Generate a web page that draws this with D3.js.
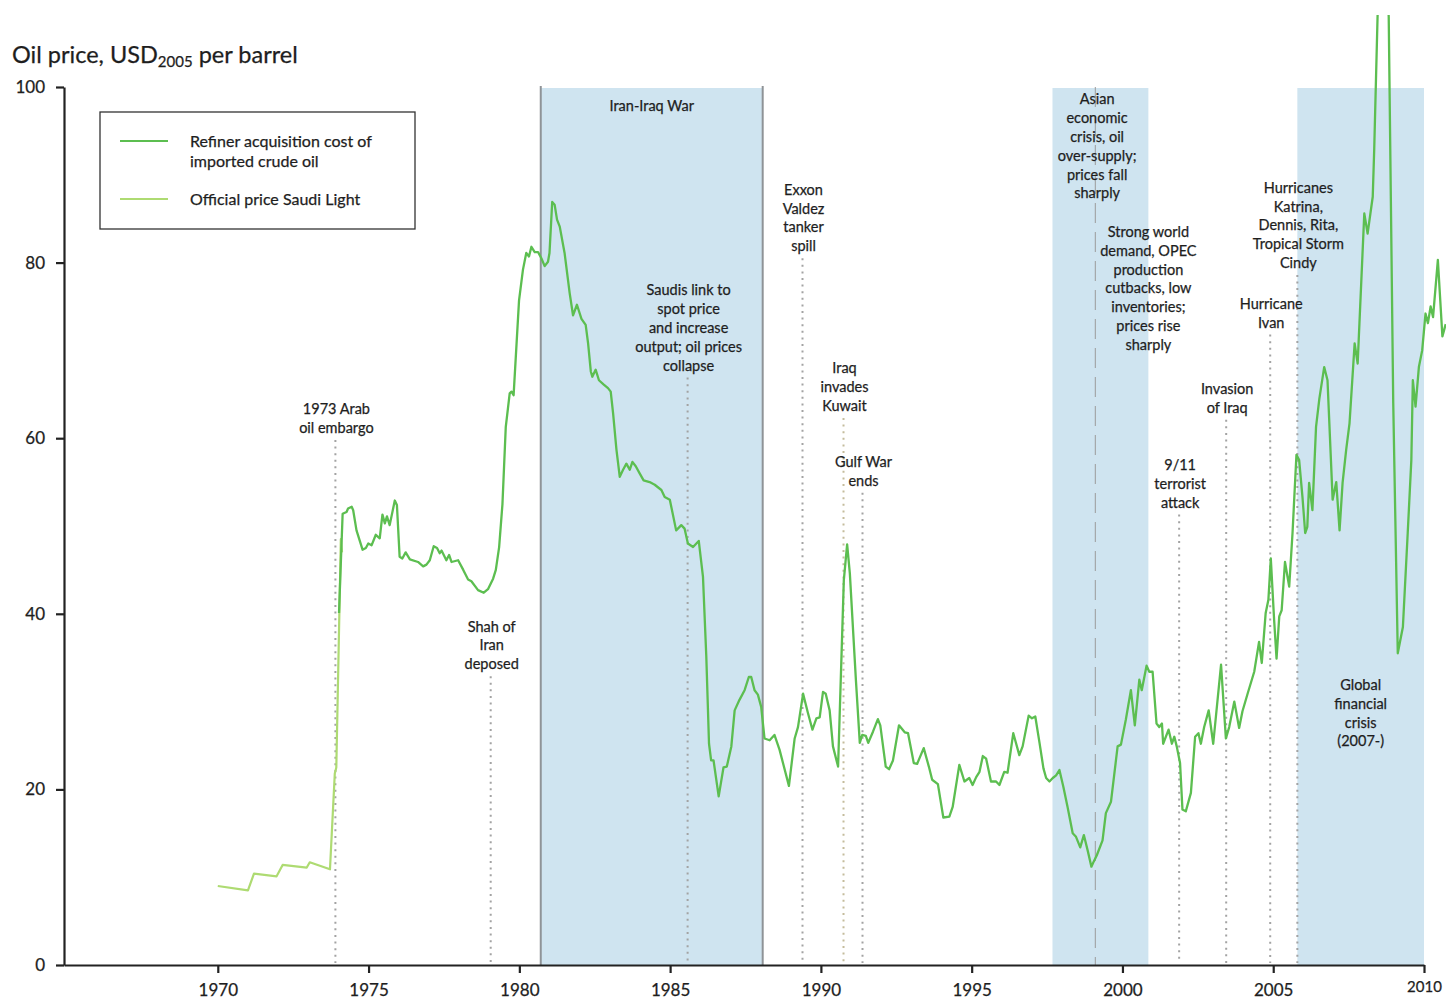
<!DOCTYPE html>
<html>
<head>
<meta charset="utf-8">
<script src="https://cdn.jsdelivr.net/npm/d3@7"></script>
<style>
  body { margin: 0; background: #fff; }
  svg { display: block; font-family: Lato, "Open Sans", sans-serif; }
  .txt { stroke: #1e1e1e; stroke-width: 0.25px; }
</style>
</head>
<body>
<div class="chart"></div>
<script>
// Refiner acquisition cost of imported crude oil, USD2005 per barrel
const racYears = [
  1974.02, 1974.14, 1974.27, 1974.32, 1974.44, 1974.49, 1974.60, 1974.80, 1974.91, 1974.99,
  1975.10, 1975.24, 1975.37, 1975.46, 1975.54, 1975.61, 1975.70, 1975.87, 1975.94,
  1976.03, 1976.12, 1976.23, 1976.37, 1976.64, 1976.81, 1976.92,
  1977.03, 1977.16, 1977.27, 1977.36, 1977.42, 1977.58, 1977.67, 1977.75, 1977.97,
  1978.14, 1978.30, 1978.41, 1978.63, 1978.82, 1978.96,
  1979.13, 1979.22, 1979.33, 1979.44, 1979.55, 1979.68, 1979.74, 1979.81, 1979.99,
  1980.12, 1980.23, 1980.32, 1980.40, 1980.51, 1980.62, 1980.73, 1980.84, 1980.95,
  1981.00, 1981.09, 1981.17, 1981.25, 1981.34, 1981.50, 1981.67, 1981.78, 1981.91,
  1982.06, 1982.20, 1982.28, 1982.37, 1982.42, 1982.53, 1982.64, 1982.80, 1982.94,
  1983.03, 1983.11, 1983.22, 1983.33, 1983.44, 1983.55, 1983.66, 1983.75, 1983.86, 1983.99,
  1984.12, 1984.32, 1984.49, 1984.71, 1984.82, 1984.99,
  1985.20, 1985.37, 1985.48, 1985.59, 1985.76, 1985.95,
  1986.09, 1986.20, 1986.29, 1986.36, 1986.44, 1986.61, 1986.77, 1986.88,
  1987.03, 1987.14, 1987.30, 1987.47, 1987.61, 1987.69, 1987.80, 1987.91,
  1988.02, 1988.13, 1988.30, 1988.46, 1988.63, 1988.94,
  1989.13, 1989.24, 1989.41, 1989.57, 1989.72, 1989.85, 1989.96,
  1990.07, 1990.16, 1990.29, 1990.40, 1990.57, 1990.76, 1990.87, 1990.96,
  1991.16, 1991.29, 1991.37, 1991.49, 1991.57, 1991.73, 1991.89, 1991.97,
  1992.15, 1992.26, 1992.39, 1992.59, 1992.78, 1992.89,
  1993.08, 1993.19, 1993.41, 1993.58, 1993.69, 1993.88,
  1994.06, 1994.26, 1994.37, 1994.59, 1994.76, 1994.92,
  1995.03, 1995.15, 1995.26, 1995.37, 1995.48, 1995.64, 1995.81, 1995.92,
  1996.08, 1996.19, 1996.38, 1996.58, 1996.69, 1996.89,
  1997.00, 1997.11, 1997.25, 1997.38, 1997.47, 1997.58, 1997.69, 1997.80, 1997.91,
  1998.04, 1998.18, 1998.35, 1998.46, 1998.60, 1998.72, 1998.85, 1998.97,
  1999.05, 1999.15, 1999.34, 1999.45, 1999.62, 1999.84, 1999.95,
  2000.11, 2000.28, 2000.41, 2000.56, 2000.64, 2000.80, 2000.89,
  2001.00, 2001.13, 2001.22, 2001.31, 2001.35, 2001.53, 2001.64, 2001.72, 2001.80, 2001.91, 2001.99,
  2002.10, 2002.27, 2002.41, 2002.52, 2002.60, 2002.71, 2002.86,
  2003.01, 2003.27, 2003.43, 2003.54, 2003.71, 2003.87, 2003.98,
  2004.15, 2004.37, 2004.53, 2004.62, 2004.75, 2004.84, 2004.92,
  2005.03, 2005.11, 2005.20, 2005.28, 2005.39, 2005.53, 2005.64, 2005.77, 2005.86, 2005.97,
  2006.06, 2006.13, 2006.19, 2006.30, 2006.42, 2006.53, 2006.69, 2006.80, 2006.97,
  2007.09, 2007.20, 2007.30, 2007.42, 2007.53, 2007.70, 2007.80,
  2008.02, 2008.13, 2008.30, 2008.35, 2008.46, 2008.58, 2008.70, 2008.83, 2008.98,
  2009.13, 2009.30, 2009.46, 2009.58, 2009.63, 2009.72, 2009.83, 2009.94,
  2010.05, 2010.13, 2010.22, 2010.30, 2010.46, 2010.61, 2010.72
];
const racPrices = [
  40.1, 51.4, 51.6, 52.0, 52.2, 51.8, 49.5, 47.3, 47.5, 48.0,
  47.8, 49.0, 48.6, 51.3, 50.3, 51.1, 50.1, 52.9, 52.4,
  46.5, 46.3, 47.0, 46.2, 45.9, 45.4, 45.6,
  46.1, 47.7, 47.5, 46.9, 47.2, 46.1, 46.7, 45.9, 46.1,
  45.0, 43.9, 43.7, 42.7, 42.4, 42.8,
  44.0, 45.0, 47.6, 52.5, 61.3, 65.1, 65.3, 64.9, 75.7,
  79.2, 81.1, 80.7, 81.8, 81.2, 81.2, 80.5, 79.6, 80.1,
  81.1, 86.9, 86.6, 84.9, 84.1, 81.1, 76.5, 74.0, 75.2,
  73.6, 72.9, 70.8, 67.6, 67.0, 67.8, 66.6, 66.1, 65.7,
  65.3, 62.8, 58.7, 55.6, 56.4, 57.1, 56.4, 57.3, 56.8, 56.0,
  55.2, 55.0, 54.7, 54.1, 53.3, 53.0,
  49.5, 50.1, 49.7, 48.0, 47.6, 48.3,
  44.2, 35.1, 25.2, 23.3, 23.3, 19.2, 22.5, 22.6,
  24.9, 29.0, 30.2, 31.3, 32.8, 32.8, 31.3, 30.8,
  29.4, 25.8, 25.6, 26.2, 24.5, 20.4,
  25.8, 27.1, 30.9, 28.7, 26.8, 28.1, 28.2,
  31.1, 30.9, 29.0, 24.9, 22.6, 43.8, 47.9, 44.6,
  32.5, 25.3, 26.2, 26.1, 25.3, 26.6, 28.0, 27.3,
  22.6, 22.3, 23.3, 27.3, 26.5, 26.4,
  23.0, 22.9, 24.7, 22.6, 21.1, 20.6,
  16.8, 16.9, 18.0, 22.8, 20.9, 21.3,
  20.5, 21.4, 22.0, 23.8, 23.5, 20.9, 20.9, 20.5,
  22.0, 21.9, 26.4, 23.9, 24.9, 28.4,
  28.1, 28.3, 25.3, 22.4, 21.3, 20.9, 21.3, 21.6, 22.2,
  20.3, 18.0, 15.0, 14.6, 13.4, 14.8, 13.0, 11.2,
  11.8, 12.5, 14.2, 17.3, 18.6, 24.9, 25.1,
  27.9, 31.3, 27.3, 32.5, 31.3, 34.1, 33.4,
  33.4, 27.5, 27.1, 27.5, 25.2, 26.8, 25.2, 26.0, 24.9, 23.0, 17.7,
  17.5, 19.6, 26.0, 26.4, 25.2, 27.1, 29.0,
  25.2, 34.2, 25.8, 27.1, 30.0, 27.0, 28.9,
  30.9, 33.4, 36.8, 34.4, 40.1, 41.6, 46.3,
  39.3, 34.9, 39.7, 40.4, 45.9, 43.1, 49.2, 58.1, 57.5, 53.3,
  49.2, 49.9, 54.9, 51.8, 61.3, 64.5, 68.1, 66.6, 53.0,
  55.0, 49.5, 54.9, 58.7, 61.7, 70.8, 68.5,
  85.6, 83.3, 87.5, 93.0, 108.0, 120.0, 118.0, 108.0, 64.0,
  35.5, 38.5, 49.2, 57.5, 66.6, 63.6, 68.1, 70.0,
  74.2, 73.1, 75.0, 73.8, 80.3, 71.6, 73.0
];

// Official price Saudi Light, USD2005 per barrel
const saudiYears = [1970.00, 1971.00, 1971.20, 1971.95, 1972.15, 1972.95, 1973.05, 1973.72, 1973.88, 1973.93, 1974.08, 1974.12];
const saudiPrices = [9.0, 8.5, 10.4, 10.1, 11.4, 11.1, 11.7, 10.9, 21.8, 22.5, 48.5, 47.0];

const xTicks = [1970, 1975, 1980, 1985, 1990, 1995, 2000, 2005, 2010];
const yTicks = [0, 20, 40, 60, 80, 100];

// shaded periods
const periodStarts = [1980.71, 1997.68, 2005.80];
const periodEnds = [1988.07, 2000.86, 2010.00];

// events marked with dotted lines
const eventYears = [1973.9, 1979.05, 1985.58, 1989.39, 1990.75, 1991.38, 2001.88, 2003.44, 2004.9, 2005.8];
const eventTops = [59.8, 32.9, 66.9, 80.5, 62.3, 53.8, 51.3, 62.1, 71.8, 78.6];
const eventLabels = [
  ["1973 Arab", "oil embargo"],
  ["Shah of", "Iran", "deposed"],
  ["Saudis link to", "spot price", "and increase", "output; oil prices", "collapse"],
  ["Exxon", "Valdez", "tanker", "spill"],
  ["Iraq", "invades", "Kuwait"],
  ["Gulf War", "ends"],
  ["9/11", "terrorist", "attack"],
  ["Invasion", "of Iraq"],
  ["Hurricane", "Ivan"],
  ["Hurricanes", "Katrina,", "Dennis, Rita,", "Tropical Storm", "Cindy"]
];

// period texts
const periodTextYears = [1988.07 - (1988.07 - 1980.71) / 2, 1999.16, 2000.86, 2005.8 + (2010 - 2005.8) / 2];
const periodTextTops = [97.8, 98.6, 83.5, 31.9];
const periodTexts = [
  ["Iran-Iraq War"],
  ["Asian", "economic", "crisis, oil", "over-supply;", "prices fall", "sharply"],
  ["Strong world", "demand, OPEC", "production", "cutbacks, low", "inventories;", "prices rise", "sharply"],
  ["Global", "financial", "crisis", "(2007-)"]
];
const asianMarkYear = 1999.1;

const width = 1446;
const height = 999;
const lineHeight = 18.8;

const svg = d3.select(".chart")
              .append("svg")
              .attr("width", width)
              .attr("height", height);

const x = d3.scaleLinear().domain([1964.9, 2010]).range([64, 1424]);
const y = d3.scaleLinear().domain([0, 100]).range([965, 87]);

// shaded periods
svg.selectAll("rect.period")
   .data(d3.zip(periodStarts, periodEnds))
   .enter()
   .append("rect")
   .attr("class", "period")
   .attr("x", d => x(d[0]))
   .attr("width", d => x(d[1]) - x(d[0]))
   .attr("y", y(100) + 1)
   .attr("height", y(0) - y(100) - 1)
   .attr("fill", "#cfe4f0");

// grey edges of the Iran-Iraq War box
svg.selectAll("line.edge")
   .data([periodStarts[0], periodEnds[0]])
   .enter()
   .append("line")
   .attr("class", "edge")
   .attr("x1", d => x(d))
   .attr("x2", d => x(d))
   .attr("y1", y(100) - 1)
   .attr("y2", y(0))
   .attr("stroke", "#8f9397")
   .attr("stroke-width", 2);

// dashed line in the Asian crisis box
svg.append("line")
   .attr("x1", x(asianMarkYear))
   .attr("x2", x(asianMarkYear))
   .attr("y1", y(100))
   .attr("y2", y(0))
   .attr("stroke", "#9a9a9a")
   .attr("stroke-width", 1)
   .attr("stroke-dasharray", "20,9");

// dotted event lines
svg.selectAll("line.event")
   .data(d3.zip(eventYears, eventTops))
   .enter()
   .append("line")
   .attr("class", "event")
   .attr("x1", d => x(d[0]))
   .attr("x2", d => x(d[0]))
   .attr("y1", d => y(d[1]))
   .attr("y2", y(0) - 2)
   .attr("stroke", (d, i) => i === 4 ? "#c4bc9c" : "#a3a3a3")
   .attr("stroke-width", 2)
   .attr("stroke-dasharray", "2,4.6");

// multi-line centred text
function addLabel(cx, firstY, lines) {
  const t = svg.append("text")
               .attr("class", "txt")
               .attr("text-anchor", "middle")
               .attr("font-size", 14.5)
               .attr("fill", "#1e1e1e");
  lines.forEach((line, i) => {
    t.append("tspan")
     .attr("x", cx)
     .attr("y", firstY + i * lineHeight)
     .attr("dy", "0.35em")
     .text(line);
  });
}

eventLabels.forEach((lines, i) => {
  const firstY = y(eventTops[i]) - 12 - (lines.length - 1) * lineHeight;
  addLabel(x(eventYears[i]) + 1, firstY, lines);
});

periodTexts.forEach((lines, i) => {
  addLabel(x(periodTextYears[i]), y(periodTextTops[i]), lines);
});

// price lines, cut off at the top of the picture
svg.append("clipPath")
   .attr("id", "plot-clip")
   .append("rect")
   .attr("x", 0)
   .attr("y", y(108.2))
   .attr("width", width)
   .attr("height", height);

const line = d3.line()
               .x(d => x(d[0]))
               .y(d => y(d[1]));

svg.append("path")
   .datum(d3.zip(saudiYears, saudiPrices))
   .attr("d", line)
   .attr("fill", "none")
   .attr("stroke", "#aedb72")
   .attr("stroke-width", 2.2)
   .attr("stroke-linejoin", "round");

svg.append("path")
   .datum(d3.zip(racYears, racPrices))
   .attr("d", line)
   .attr("clip-path", "url(#plot-clip)")
   .attr("fill", "none")
   .attr("stroke", "#5cbe50")
   .attr("stroke-width", 2.3)
   .attr("stroke-linejoin", "round");

// axes
const xAxis = d3.axisBottom(x)
                .tickValues(xTicks)
                .tickFormat(d3.format("d"))
                .tickSize(8)
                .tickSizeOuter(0)
                .tickPadding(11);

const yAxis = d3.axisLeft(y)
                .tickValues(yTicks)
                .tickSize(8)
                .tickSizeOuter(0)
                .tickPadding(11);

const gx = svg.append("g")
              .attr("transform", "translate(0," + y(0) + ")")
              .call(xAxis);

const gy = svg.append("g")
              .attr("transform", "translate(" + x.range()[0] + ",0)")
              .call(yAxis);

[gx, gy].forEach(g => {
  g.select(".domain").attr("stroke", "#222").attr("stroke-width", 2.2);
  g.selectAll(".tick line").attr("stroke", "#222").attr("stroke-width", 2.2);
  g.selectAll(".tick text")
   .attr("class", "txt")
   .attr("fill", "#1e1e1e")
   .attr("font-size", 17)
   .attr("font-family", "Lato, sans-serif");
});
gx.selectAll(".tick text").filter(d => d === 2010).attr("font-size", 15).attr("dy", "0.5em");

// title
const title = svg.append("text")
                 .attr("class", "txt")
                 .attr("x", 12)
                 .attr("y", 63)
                 .attr("font-size", 23.5)
                 .attr("fill", "#1e1e1e");
title.append("tspan").text("Oil price, USD");
title.append("tspan").attr("font-size", 15).attr("dy", 4).text("2005");
title.append("tspan").attr("dy", -4).text(" per barrel");

// legend
const legend = svg.append("g").attr("transform", "translate(100,112)");
legend.append("rect")
      .attr("width", 315)
      .attr("height", 117)
      .attr("fill", "#fff")
      .attr("stroke", "#333")
      .attr("stroke-width", 1.3);

const legendColors = ["#5cbe50", "#aedb72"];
const legendNames = [["Refiner acquisition cost of", "imported crude oil"], ["Official price Saudi Light"]];
const legendRows = [29, 87];

legendNames.forEach((lines, i) => {
  legend.append("line")
        .attr("x1", 20)
        .attr("x2", 68)
        .attr("y1", legendRows[i])
        .attr("y2", legendRows[i])
        .attr("stroke", legendColors[i])
        .attr("stroke-width", 2);
  const t = legend.append("text")
                  .attr("class", "txt")
                  .attr("font-size", 16)
                  .attr("fill", "#1e1e1e");
  lines.forEach((s, j) => {
    t.append("tspan")
     .attr("x", 90)
     .attr("y", legendRows[i] + j * 20.5)
     .attr("dy", "0.35em")
     .text(s);
  });
});
</script>
</body>
</html>
